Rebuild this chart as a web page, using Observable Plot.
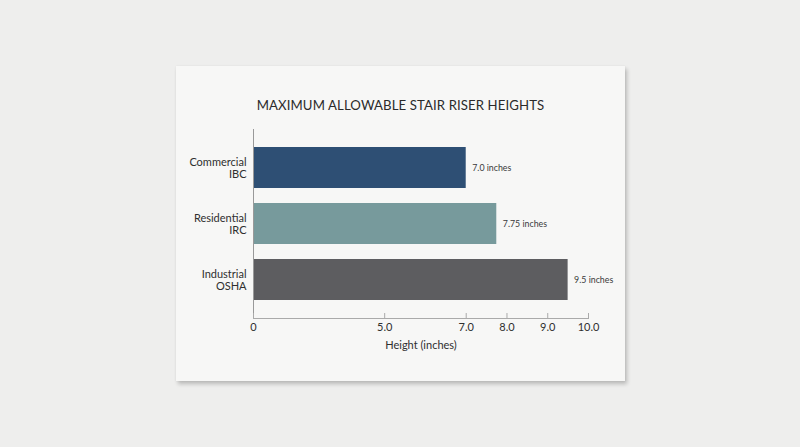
<!DOCTYPE html>
<html>
<head>
<meta charset="utf-8">
<script src="https://cdn.jsdelivr.net/npm/d3@7"></script>
<script src="https://cdn.jsdelivr.net/npm/@observablehq/plot@0.6"></script>
<style>
  html, body { margin: 0; padding: 0; }
  body { width: 800px; height: 447px; background: #eeeeed; position: relative; overflow: hidden; font-family: Lato, "Noto Sans", sans-serif; }
  #card { position: absolute; left: 176px; top: 66px; width: 449px; height: 315px; background: #f7f7f6;
          box-shadow: 2px 3px 4px rgba(0,0,0,0.22), 0 0 2px rgba(0,0,0,0.06); }
  #title { position: absolute; left: 0; width: 449px; top: 29px; text-align: center; font-size: 13.2px; color: #2b2b2b; letter-spacing: 0.1px; line-height: 20px; }
  #chart { position: absolute; left: 0; top: 54px; }
</style>
</head>
<body>
<div id="card">
  <div id="title">MAXIMUM ALLOWABLE STAIR RISER HEIGHTS</div>
  <div id="chart"></div>
</div>
<script>
const categories = ["Commercial\nIBC", "Residential\nIRC", "Industrial\nOSHA"];
const heights = [7.0, 7.75, 9.5];
const valueLabels = ["7.0 inches", "7.75 inches", "9.5 inches"];
const xTicks = [0, 5, 7, 8, 9, 10];
const xTickLabels = ["0", "5.0", "7.0", "8.0", "9.0", "10.0"];
const xLabel = "Height (inches)";
const barColors = ["#2e4f74", "#779a9c", "#5d5d60"];

const rows = categories.map((c, i) => ({category: c, height: heights[i], label: valueLabels[i]}));

const W = 449, H = 238, ML = 77, MR = 37, MT = 9, MB = 40;
// the reference axis compresses the 0–5 segment
const warp = d3.scaleLinear().domain([0, 5, 10]).range([0, 0.3916, 1]);

const chart = Plot.plot({
  width: W, height: H,
  marginLeft: ML, marginRight: MR, marginTop: MT, marginBottom: MB,
  style: {fontFamily: "Lato, 'Noto Sans', sans-serif", background: "transparent", color: "#333"},
  x: {type: "linear", transform: warp, domain: [0, 1]},
  y: {domain: categories, paddingInner: 0.263, paddingOuter: 0.29},
  color: {domain: categories, range: barColors},
  marks: [
    Plot.barX(rows, {x: "height", y: "category", fill: "category"}),
    Plot.text(rows, {x: "height", y: "category", text: "label", dx: 6, textAnchor: "start", fontSize: 8.8, fill: "#3a3a3a"}),
    Plot.text(rows, {y: "category", text: "category", frameAnchor: "left", dx: -7, textAnchor: "end", fontSize: 11, lineHeight: 1.13, fill: "#2f2f2f"}),
    Plot.ruleX([0], {stroke: "#999", strokeWidth: 1}),
    Plot.frame({anchor: "bottom", stroke: "#aaa"}),
    Plot.axisX(xTicks, {tickSize: -5, stroke: "#aaa", tickFormat: () => "", label: null}),
    Plot.axisX(xTicks, {tickSize: 0, tickPadding: 5, fontSize: 11, fill: "#2f2f2f",
      tickFormat: (d) => xTickLabels[xTicks.indexOf(d)],
      label: xLabel, labelAnchor: "center", labelArrow: "none", labelOffset: 30}),
    Plot.axisY({ticks: [], label: null})
  ]
});
document.getElementById("chart").appendChild(chart);
</script>
</body>
</html>
